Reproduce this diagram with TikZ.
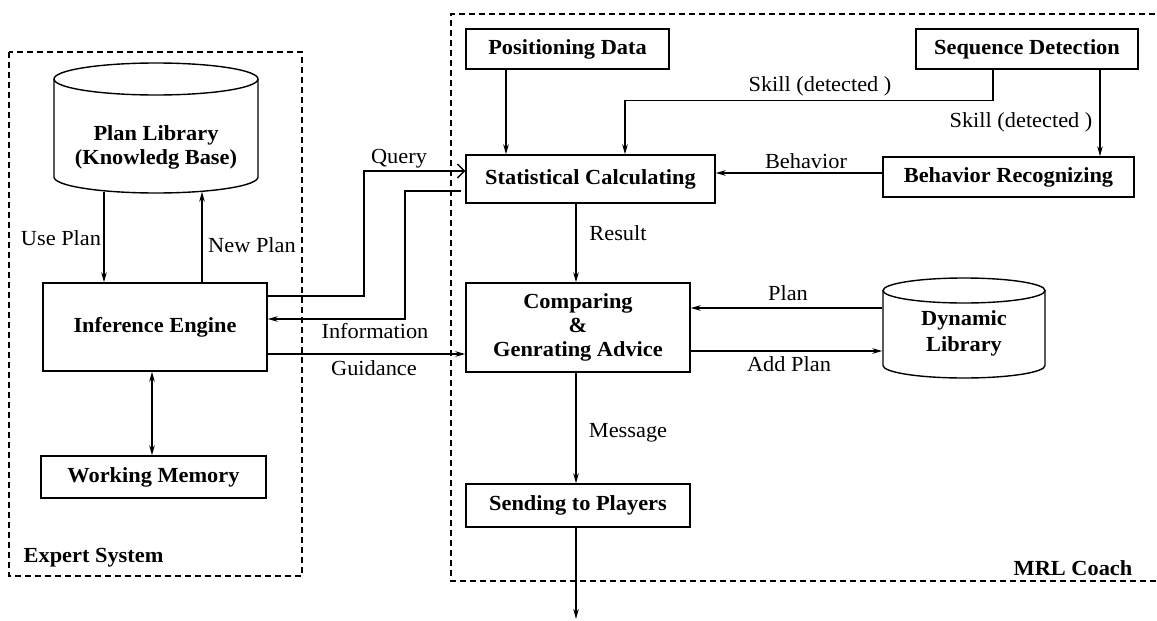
\documentclass[tikz,border=0pt]{standalone}
\usepackage{fontspec}
\setmainfont{Liberation Serif}[FakeStretch=1.04]
\usetikzlibrary{arrows.meta,calc}
\begin{document}
\begin{tikzpicture}[x=1pt,y=-1pt, line width=1.4pt,
  box/.style={draw, rectangle, inner sep=0pt, font=\fontsize{21.5}{24}\selectfont\bfseries, align=center},
  ph/.style={rectangle, inner sep=0pt},
  btxt/.style={inner sep=0pt, font=\fontsize{21.5}{24}\selectfont\bfseries, align=center},
  lbl/.style={inner sep=0pt, font=\fontsize{21.5}{24}\selectfont},
  arr/.style={-{Stealth[length=10pt,width=5.5pt]}},
  barr/.style={{Stealth[length=10pt,width=5.5pt]}-{Stealth[length=10pt,width=5.5pt]}},
  qarr/.style={-{Straight Barb[length=7pt,width=14pt]}},
  frame/.style={dash pattern=on 6pt off 4pt, line width=1.2pt}]
\useasboundingbox (0,0) rectangle (1157,621);

% frames
\draw[frame] (9,52) rectangle (302,576);
\draw[frame] (1165,14) -- (451,14) -- (451,581) -- (1165,581);
\node[btxt, anchor=west] (es) at (23,558) {Expert System};
\node[btxt] (mrl) at (1073,568) {MRL Coach};

% Plan Library cylinder
\node[ph, minimum width=204pt, minimum height=130pt] (PL) at (156,128) {};
\draw (54,79) -- (54,177) arc[start angle=180,end angle=360,x radius=102pt,y radius=16pt] -- (258,79);
\draw (156,79) ellipse[x radius=102pt, y radius=16pt];
\node[btxt] (PLt) at (156,147) {Plan Library\\(Knowledg Base)};

% Dynamic Library cylinder
\node[ph, minimum width=162pt, minimum height=100pt] (DL) at (964,328) {};
\draw (883,290.5) -- (883,365.5) arc[start angle=180,end angle=360,x radius=81pt,y radius=12.5pt] -- (1045,290.5);
\draw (964,290.5) ellipse[x radius=81pt, y radius=12.5pt];
\node[btxt, font=\fontsize{21.5}{26}\selectfont\bfseries] (DLt) at (964,333) {Dynamic\\Library};

% boxes
\node[box, minimum width=224pt, minimum height=88pt] (IE) at (155,327) {Inference Engine};
\node[box, minimum width=225pt, minimum height=42pt] (WM) at (153.5,477) {Working Memory};
\node[box, minimum width=203pt, minimum height=40pt] (PD) at (567.5,49) {Positioning Data};
\node[box, minimum width=249pt, minimum height=48pt] (SC) at (590.5,179) {Statistical Calculating};
\node[box, minimum width=222pt, minimum height=40pt] (SD) at (1027,49) {Sequence Detection};
\node[box, minimum width=251pt, minimum height=40pt] (BR) at (1008.5,177) {Behavior Recognizing};
\node[box, minimum width=224pt, minimum height=89pt] (CG) at (578,327.5) {Comparing\\\&\\Genrating Advice};
\node[box, minimum width=224pt, minimum height=43pt] (SP) at (578,505.5) {Sending to Players};
\coordinate (out) at (576,619);

% connectors
\draw[arr] ([xshift=-52pt,yshift=2pt]PL.south) -- ([xshift=-51pt]IE.north);
\draw[arr] ([xshift=47pt]IE.north) -- ([xshift=46pt,yshift=2pt]PL.south);
\draw[barr] ([xshift=-3pt]IE.south) -- ([xshift=-1.5pt]WM.north);
\draw[qarr] ([yshift=31pt]IE.east) -- (364,296) |- ([yshift=8pt]SC.west);
\draw[arr] ([xshift=-4pt,yshift=-12pt]SC.west) -- (405,191) |- ([yshift=8pt]IE.east);
\draw[arr] ([yshift=-27pt]IE.east) -- ([yshift=-27pt]IE.east -| CG.west);
\draw[arr] ([xshift=-61.5pt]PD.south) -- ([xshift=-61.5pt]PD.south |- SC.north);
\draw[arr] ([xshift=-34pt]SD.south) -- ++(0,31) -| ([xshift=34.5pt]SC.north);
\draw[arr] ([xshift=73pt]SD.south) -- ([xshift=73pt]SD.south |- BR.north);
\draw[arr] ([yshift=4pt]BR.west) -- ([yshift=4pt]BR.west -| SC.east);
\draw[arr] ([xshift=-14.5pt]SC.south) -- ([xshift=-14.5pt]SC.south |- CG.north);
\draw[arr] ([yshift=20pt]DL.west) -- ([yshift=20pt]DL.west -| CG.east);
\draw[arr] ([yshift=-23.5pt]CG.east) -- ([yshift=-23.5pt]CG.east -| DL.west);
\draw[arr] ([xshift=-2pt]CG.south) -- ([xshift=-2pt]SP.north);
\draw[arr] ([xshift=-2pt]SP.south) -- (out);

% labels
\node[lbl] (l1) at (61,238) {Use Plan};
\node[lbl] (l2) at (252,245) {New Plan};
\node[lbl] (l3) at (399,159) {Query};
\node[lbl] (l4) at (375,331) {Information};
\node[lbl] (l5) at (374,368) {Guidance};
\node[lbl] (l6) at (820,86) {Skill (detected )};
\node[lbl] (l7) at (1021,122) {Skill (detected )};
\node[lbl] (l8) at (806,161) {Behavior};
\node[lbl] (l9) at (618,233) {Result};
\node[lbl] (l10) at (788,293) {Plan};
\node[lbl] (l11) at (789,364) {Add Plan};
\node[lbl] (l12) at (628,433) {Message};
\end{tikzpicture}
\end{document}
